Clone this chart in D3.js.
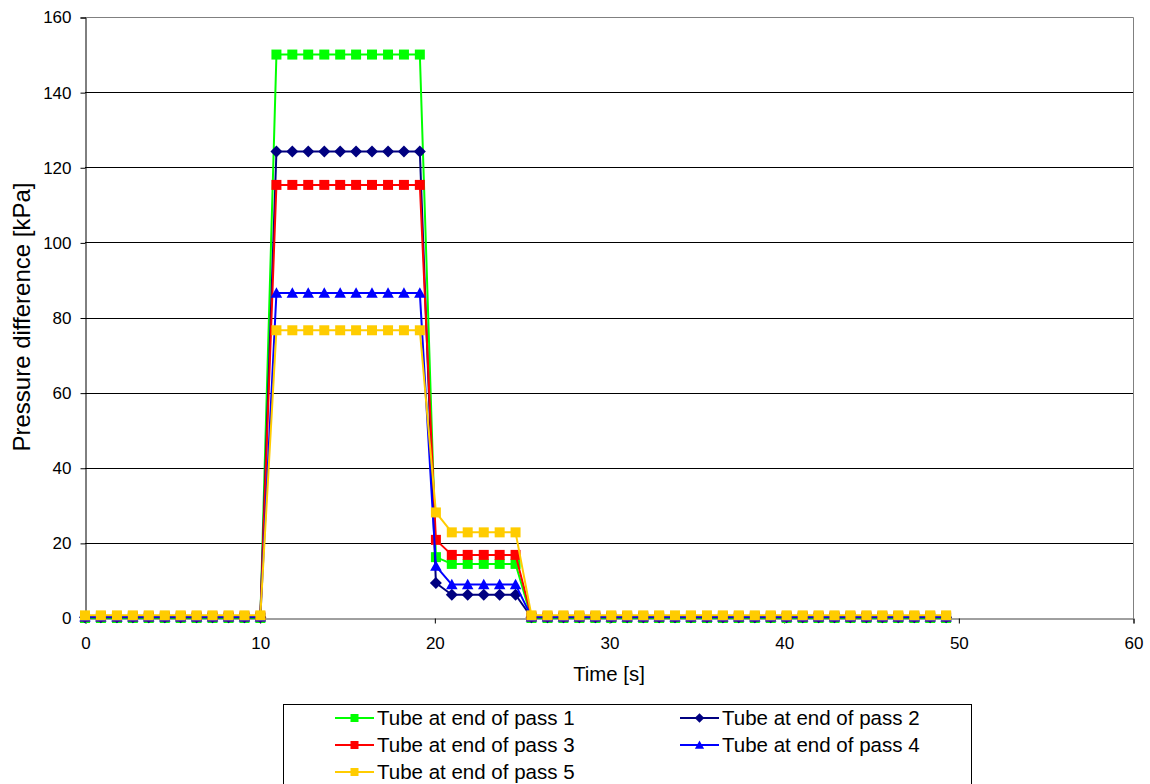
<!DOCTYPE html>
<html>
<head>
<meta charset="utf-8">
<script src="https://cdn.jsdelivr.net/npm/d3@7"></script>
<style>
  html, body { margin: 0; padding: 0; background: #fff; }
  svg { display: block; font-family: "Liberation Sans", Arial, sans-serif; }
</style>
</head>
<body>
<svg id="chart" width="1150" height="784"></svg>
<script>
const times = [0, 0.91, 1.83, 2.74, 3.65, 4.57, 5.48, 6.39, 7.30, 8.22, 9.13, 10.04,
  10.96, 11.87, 12.78, 13.70, 14.61, 15.52, 16.43, 17.35, 18.26, 19.17,
  20.09, 21.00, 21.91, 22.83, 23.74, 24.65,
  25.56, 26.48, 27.39, 28.30, 29.22, 30.13, 31.04, 31.96, 32.87, 33.78, 34.69, 35.61,
  36.52, 37.43, 38.35, 39.26, 40.17, 41.09, 42.00, 42.91, 43.82, 44.74, 45.65, 46.56,
  47.48, 48.39, 49.30];

const pass1 = [0,0,0,0,0,0,0,0,0,0,0,0,
  150,150,150,150,150,150,150,150,150,150,
  16.2,14.4,14.4,14.4,14.4,14.4,
  0,0,0,0,0,0,0,0,0,0,0,0,0,0,0,0,0,0,0,0,0,0,0,0,0,0,0];
const pass2 = [0.2,0.2,0.2,0.2,0.2,0.2,0.2,0.2,0.2,0.2,0.2,0.2,
  124.2,124.2,124.2,124.2,124.2,124.2,124.2,124.2,124.2,124.2,
  9.3,6.2,6.2,6.2,6.2,6.2,
  0.2,0.2,0.2,0.2,0.2,0.2,0.2,0.2,0.2,0.2,0.2,0.2,0.2,0.2,0.2,0.2,0.2,0.2,0.2,0.2,0.2,0.2,0.2,0.2,0.2,0.2,0.2];
const pass3 = [0.4,0.4,0.4,0.4,0.4,0.4,0.4,0.4,0.4,0.4,0.4,0.4,
  115.3,115.3,115.3,115.3,115.3,115.3,115.3,115.3,115.3,115.3,
  20.8,16.8,16.8,16.8,16.8,16.8,
  0.4,0.4,0.4,0.4,0.4,0.4,0.4,0.4,0.4,0.4,0.4,0.4,0.4,0.4,0.4,0.4,0.4,0.4,0.4,0.4,0.4,0.4,0.4,0.4,0.4,0.4,0.4];
const pass4 = [0.3,0.3,0.3,0.3,0.3,0.3,0.3,0.3,0.3,0.3,0.3,0.3,
  86.5,86.5,86.5,86.5,86.5,86.5,86.5,86.5,86.5,86.5,
  13.8,8.9,8.9,8.9,8.9,8.9,
  0.3,0.3,0.3,0.3,0.3,0.3,0.3,0.3,0.3,0.3,0.3,0.3,0.3,0.3,0.3,0.3,0.3,0.3,0.3,0.3,0.3,0.3,0.3,0.3,0.3,0.3,0.3];
const pass5 = [0.7,0.7,0.7,0.7,0.7,0.7,0.7,0.7,0.7,0.7,0.7,0.7,
  76.6,76.6,76.6,76.6,76.6,76.6,76.6,76.6,76.6,76.6,
  28.1,22.8,22.8,22.8,22.8,22.8,
  0.7,0.7,0.7,0.7,0.7,0.7,0.7,0.7,0.7,0.7,0.7,0.7,0.7,0.7,0.7,0.7,0.7,0.7,0.7,0.7,0.7,0.7,0.7,0.7,0.7,0.7,0.7];

const seriesNames = ["Tube at end of pass 1", "Tube at end of pass 2", "Tube at end of pass 3",
  "Tube at end of pass 4", "Tube at end of pass 5"];
const seriesColors = ["#00FF00", "#000080", "#FF0000", "#0000FF", "#FFCC00"];
const seriesMarkers = ["square", "diamond", "square", "triangle", "square"];
const xTicks = [0, 10, 20, 30, 40, 50, 60];
const yTicks = [0, 20, 40, 60, 80, 100, 120, 140, 160];
const xTitle = "Time [s]";
const yTitle = "Pressure difference [kPa]";

const seriesData = [pass1, pass2, pass3, pass4, pass5];

const svg = d3.select("#chart");
const L = 85, R = 1133, T = 17, B = 618;
const x = d3.scaleLinear().domain([0, 60]).range([L, R]);
const y = d3.scaleLinear().domain([0, 160]).range([B, T]);

// gridlines
svg.append("g").selectAll("line").data(yTicks.filter(d => d > 0 && d < 160)).join("line")
  .attr("x1", L).attr("x2", R)
  .attr("y1", d => Math.round(y(d)) + 0.5).attr("y2", d => Math.round(y(d)) + 0.5)
  .attr("stroke", "#000").attr("stroke-width", 1);

// plot border top/right (gray)
svg.append("path")
  .attr("d", `M${L},${T + 0.5}H${R + 0.5}V${B}`)
  .attr("fill", "none").attr("stroke", "#808080").attr("stroke-width", 1);

// axes
const yAxis = d3.axisLeft(y).tickValues(yTicks).tickSize(5).tickPadding(9).tickFormat(d3.format("d"));
const gy = svg.append("g").attr("transform", `translate(${L + 0.5},0.5)`).call(yAxis);
const xAxis = d3.axisBottom(x).tickValues(xTicks).tickSize(5).tickPadding(13).tickFormat(d3.format("d"));
const gx = svg.append("g").attr("transform", `translate(0.5,${B + 0.5})`).call(xAxis);
[gx, gy].forEach(g => {
  g.select(".domain").attr("stroke", "#000");
  g.selectAll(".tick line").attr("stroke", "#000");
  g.selectAll(".tick text").attr("font-family", "Liberation Sans, Arial, sans-serif")
    .attr("font-size", 17).attr("fill", "#000");
});
gx.select(".domain").attr("stroke", "#404040");

// axis titles
svg.append("text").attr("x", 609).attr("y", 681).attr("text-anchor", "middle")
  .attr("font-size", 20.4).attr("fill", "#000").text(xTitle);
svg.append("text").attr("transform", `translate(30,${(183 + 451) / 2}) rotate(-90)`)
  .attr("text-anchor", "middle").attr("font-size", 24).attr("fill", "#000").text(yTitle);

// marker shapes
function markerPath(type, size) {
  const s = size / 2;
  if (type === "square") return `M${-s},${-s}H${s}V${s}H${-s}Z`;
  if (type === "diamond") { const d = s * 1.2; return `M0,${-d}L${d},0L0,${d}L${-d},0Z`; }
  if (type === "triangle") { const t = s * 1.15; return `M0,${-t}L${t},${t * 0.8}L${-t},${t * 0.8}Z`; }
}

const line = d3.line().x((d, i) => x(times[i])).y(d => y(d));

seriesData.forEach((vals, si) => {
  const g = svg.append("g");
  g.append("path").datum(vals).attr("d", line)
    .attr("fill", "none").attr("stroke", seriesColors[si]).attr("stroke-width", 2)
    .attr("stroke-linejoin", "round");
  g.selectAll("path.m").data(vals).join("path").attr("class", "m")
    .attr("transform", (d, i) => `translate(${x(times[i])},${y(d)})`)
    .attr("d", markerPath(seriesMarkers[si], 10))
    .attr("fill", seriesColors[si]);
});

// legend
const lg = svg.append("g");
lg.append("rect").attr("x", 283.5).attr("y", 704.5).attr("width", 688).attr("height", 100)
  .attr("fill", "#fff").attr("stroke", "#000").attr("stroke-width", 1);
const legPos = [[335, 718], [680, 718], [335, 745], [680, 745], [335, 772]];
seriesNames.forEach((name, i) => {
  const [lx, ly] = legPos[i];
  lg.append("line").attr("x1", lx).attr("x2", lx + 39).attr("y1", ly).attr("y2", ly)
    .attr("stroke", seriesColors[i]).attr("stroke-width", 2);
  lg.append("path").attr("transform", `translate(${lx + 19.5},${ly})`)
    .attr("d", markerPath(seriesMarkers[i], 8)).attr("fill", seriesColors[i]);
  lg.append("text").attr("x", lx + 42).attr("y", ly + 7).attr("font-size", 20.5)
    .attr("fill", "#000").text(name);
});
</script>
</body>
</html>
